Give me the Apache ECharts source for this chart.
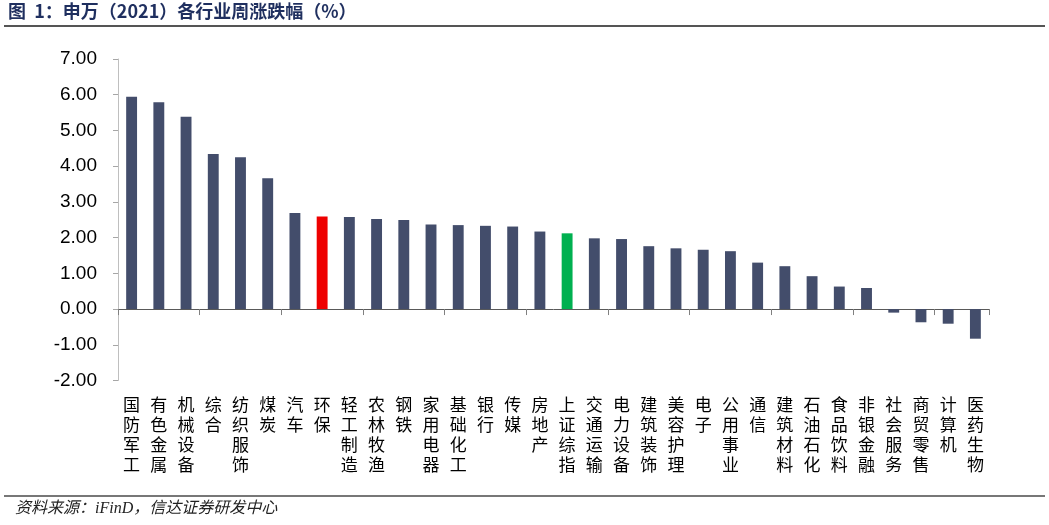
<!DOCTYPE html>
<html><head><meta charset="utf-8">
<script src="https://cdn.jsdelivr.net/npm/echarts@6/dist/echarts.min.js"></script>
<style>html,body{margin:0;padding:0;background:#fff}#c{width:1049px;height:525px}</style>
</head><body><div id="c"></div>
<script>
const categories = ['国防军工','有色金属','机械设备','综合','纺织服饰','煤炭','汽车','环保','轻工制造','农林牧渔','钢铁','家用电器','基础化工','银行','传媒','房地产','上证综指','交通运输','电力设备','建筑装饰','美容护理','电子','公用事业','通信','建筑材料','石油石化','食品饮料','非银金融','社会服务','商贸零售','计算机','医药生物'];
const values = [5.94,5.79,5.38,4.34,4.25,3.66,2.69,2.59,2.58,2.52,2.49,2.37,2.35,2.33,2.31,2.17,2.12,1.98,1.96,1.76,1.70,1.66,1.62,1.30,1.20,0.92,0.63,0.59,-0.10,-0.37,-0.41,-0.83];
const highlightRed = ['环保'];
const highlightGreen = ['上证综指'];
const titleText = '图  1：申万（2021）各行业周涨跌幅（%）';
const sourceText = '资料来源：iFinD，信达证券研发中心';

const chart = echarts.init(document.getElementById('c'));
const barData = values.map((v,i)=>({
  value: v,
  itemStyle: { color: highlightRed.includes(categories[i]) ? '#EE0000' : highlightGreen.includes(categories[i]) ? '#00B050' : '#434D6B' }
}));
chart.setOption({
  animation: false,
  grid: { left: 118, right: 60, top: 59, bottom: 144.5 },
  graphic: [
    { type: 'text', left: 8, top: 2, style: { text: titleText, font: 'bold 18px "Noto Sans CJK SC", sans-serif', fill: '#1F2F5F' } },
    { type: 'line', shape: { x1: 4, y1: 26, x2: 1045, y2: 26 }, style: { stroke: '#555', lineWidth: 2 } },
    { type: 'line', shape: { x1: 4, y1: 496, x2: 1045, y2: 496 }, style: { stroke: '#777', lineWidth: 2 } },
    { type: 'text', left: 15, top: 501, style: { text: sourceText, font: 'italic 16px "Liberation Serif", "Noto Sans CJK SC", serif', fill: '#222' } }
  ],
  xAxis: [
    { type: 'category', data: categories, axisLine: { onZero: true, lineStyle: { color: '#595959', width: 1 } },
      axisTick: { show: true, length: 6, lineStyle: { color: '#808080' } }, axisLabel: { show: false } },
    { type: 'category', data: categories, position: 'bottom', axisLine: { show: false, onZero: false }, axisTick: { show: false },
      axisLabel: { interval: 0, margin: 14, fontSize: 17, lineHeight: 20, color: '#000', fontFamily: '"Noto Sans CJK SC", sans-serif', verticalAlign: 'top',
        formatter: v => v.split('').join('\n') } }
  ],
  yAxis: {
    type: 'value', min: -2, max: 7, interval: 1,
    axisLine: { show: true, lineStyle: { color: '#BFBFBF' } },
    axisTick: { show: true, length: 5, lineStyle: { color: '#A6A6A6' } },
    splitLine: { show: false },
    axisLabel: { margin: 21, fontSize: 19, color: '#000', fontFamily: 'Arial, "Liberation Sans", sans-serif', formatter: v => v.toFixed(2) }
  },
  series: [{ type: 'bar', xAxisIndex: 0, data: barData, barWidth: '40%' }]
});
</script></body></html>
